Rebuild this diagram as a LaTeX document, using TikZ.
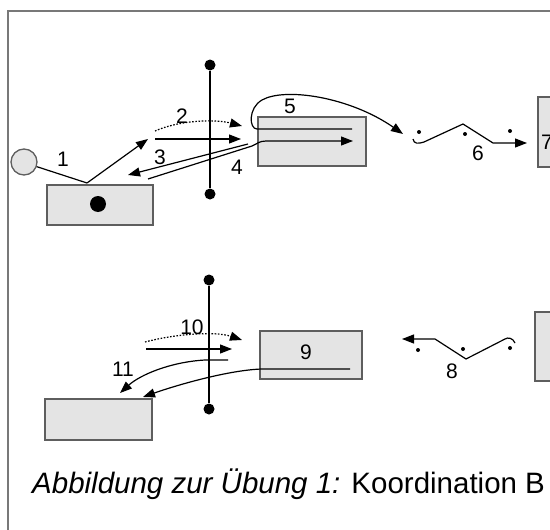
\documentclass[tikz,border=0pt]{standalone}
\usepackage{fontspec}
\setmainfont{Liberation Sans}
\usetikzlibrary{arrows.meta}
\definecolor{boxfill}{HTML}{E4E4E4}
\definecolor{boxline}{HTML}{5E5E5E}
\definecolor{frameline}{HTML}{787878}
\begin{document}
\begin{tikzpicture}[x=1pt,y=-1pt,
  box/.style={draw=boxline, fill=boxfill, line width=1.4pt, inner sep=0pt},
  enddot/.style={circle, fill=black, inner sep=0pt, minimum size=11pt},
  smalldot/.style={circle, fill=black, inner sep=0pt, minimum size=4pt},
  lbl/.style={inner sep=0pt, font=\fontsize{21}{23}\selectfont},
  conn/.style={line width=1.2pt, black},
  arr/.style={conn, -{Triangle[length=12pt,width=9pt]}},
  dots/.style={dash pattern=on 1.6pt off 1.6pt}]
\useasboundingbox (0,0) rectangle (550,530);
\clip (0,0) rectangle (550,530);
% frame
\coordinate (fA) at (8,530);
\coordinate (fB) at (8,11);
\coordinate (fC) at (550,11);
\draw[frameline, line width=2pt] (fA) -- (fB) -- (fC);

% ---------- upper part ----------
\node[circle, draw=boxline, fill=boxfill, line width=1.3pt, minimum size=26pt, inner sep=0pt] (circ) at (24,162) {};
\node[box, minimum width=106pt, minimum height=40pt] (b1) at (100,205) {};
\node[circle, fill=black, inner sep=0pt, minimum size=16pt] (b1dot) at (98,204) {};
\node[box, minimum width=108pt, minimum height=49pt] (b5) at (312,141.5) {};
\node[box, minimum width=100pt, minimum height=70pt] (b7) at (588,132) {};
\node[lbl] (l7) at (547,142) {7};

\node[enddot] (v1t) at (210,65) {};
\node[enddot] (v1b) at (210,194) {};
\draw[line width=1.5pt] (v1t) -- (v1b);

% 1
\coordinate (k1) at (87,183);
\coordinate (e1) at (148,139);
\draw[conn] (circ.-20) -- (k1);
\draw[arr] (k1) -- (e1);
\node[lbl] (l1) at (63,159) {1};
% 2
\coordinate (s2) at (155,131);
\coordinate (e2) at (242,126);
\draw[arr, dots] (s2) .. controls (180,120) and (215,119) .. (e2);
\coordinate (s2b) at (155,139);
\coordinate (e2b) at (241,139);
\draw[arr] (s2b) -- (e2b);
\node[lbl] (l2) at (182,116) {2};
% 3
\coordinate (s3) at (248,144);
\coordinate (e3) at (128,175);
\draw[arr] (s3) -- (e3);
\node[lbl] (l3) at (160,157) {3};
% 4
\coordinate (s4) at (148,179);
\coordinate (e4) at (353,141);
\draw[arr] (s4) -- (252,146) .. controls (257,144) and (259,141) .. (266,141) -- (e4);
\node[lbl] (l4) at (237,167) {4};
% 5
\coordinate (s5) at (352,129);
\coordinate (e5) at (403,134);
\draw[arr] (s5) -- (257,129) .. controls (249,129) and (248,108) .. (262,100)
  .. controls (285,87) and (350,97) .. (e5);
\node[lbl] (l5) at (290,106) {5};
% 6
\node[smalldot] (d6a) at (419,132) {};
\node[smalldot] (d6b) at (465,134) {};
\node[smalldot] (d6c) at (510,131) {};
\coordinate (s6) at (413,139);
\coordinate (e6) at (527,143);
\draw[arr] (s6) .. controls (414,144) and (418,144) .. (424,142) -- (463,124) -- (493,143) -- (e6);
\node[lbl] (l6) at (478,153) {6};

% ---------- lower part ----------
\node[box, minimum width=102pt, minimum height=48pt] (b9) at (311,355) {};
\node[lbl] (l9) at (306,352) {9};
\node[box, minimum width=100pt, minimum height=69pt] (b8) at (585,346.5) {};
\node[box, minimum width=107pt, minimum height=41pt] (b11) at (98.5,419.5) {};

\node[enddot] (v2t) at (209,280) {};
\node[enddot] (v2b) at (209,409) {};
\draw[line width=1.5pt] (v2t) -- (v2b);

% 10
\coordinate (s10) at (145,342);
\coordinate (e10) at (242,340);
\draw[arr, dots] (s10) .. controls (175,334) and (215,331) .. (e10);
\coordinate (s10b) at (146,349);
\coordinate (e10b) at (232,349);
\draw[arr] (s10b) -- (e10b);
\node[lbl] (l10) at (192,327) {10};
% 11
\coordinate (s11) at (228,360);
\coordinate (e11) at (120,393);
\draw[arr] (s11) -- (205,360) .. controls (170,362) and (140,375) .. (e11);
\node[lbl] (l11) at (123,369) {11};
\coordinate (s9) at (350,369);
\coordinate (e9) at (143,397);
\draw[arr] (s9) -- (262,369) .. controls (230,370) and (180,384) .. (e9);
% 8
\node[smalldot] (d8a) at (418,350) {};
\node[smalldot] (d8b) at (463,349) {};
\node[smalldot] (d8c) at (510,348) {};
\coordinate (s8) at (515,343);
\coordinate (e8) at (402,339);
\draw[arr] (s8) .. controls (513,338) and (508,337) .. (505,339) -- (466,359) -- (435,339) -- (e8);
\node[lbl] (l8) at (452,371) {8};

% caption
\node[anchor=base west, inner sep=0pt, font=\fontsize{29.5}{32}\selectfont] (cap) at (32,493)
  {\textit{Abbildung zur Übung 1:} Koordination B};
\end{tikzpicture}
\end{document}
